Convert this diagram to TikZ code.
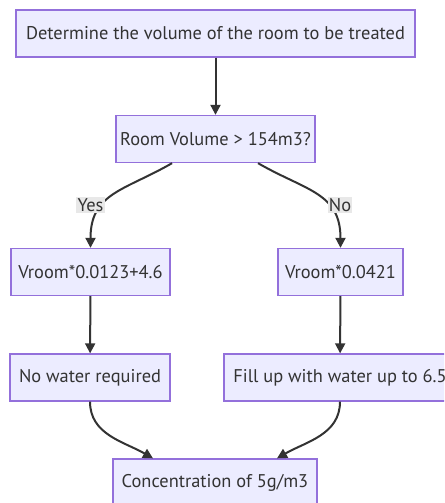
\documentclass[tikz,border=0pt]{standalone}
\usepackage{fontspec}
\setmainfont{PT Sans}
\usetikzlibrary{arrows.meta}

\definecolor{boxfill}{HTML}{ECECFF}
\definecolor{boxline}{HTML}{9370DB}
\definecolor{ink}{HTML}{333333}
\definecolor{labelbg}{HTML}{E8E8E8}

\tikzset{
  flowbox/.style={draw=boxline, fill=boxfill, line width=1pt, text=ink,
    minimum height=35.25pt, inner sep=0pt, font=\fontsize{13.8}{16}\selectfont},
  flowarrow/.style={draw=ink, line width=1.5pt,
    -{Triangle[length=7.5pt,width=7.5pt]}},
  edgelabel/.style={fill=labelbg, text=ink, inner sep=1pt,
    font=\fontsize{13.8}{16}\selectfont}
}

\begin{document}
\begin{tikzpicture}[x=0.75pt,y=-0.75pt]
  \useasboundingbox (0,0) rectangle (444,503);
  \clip (0,0) rectangle (444,503);
  % boxes
  \node[flowbox, minimum width=299.25pt] (determine) at (215.5,33.5) {Determine the volume of the room to be treated};
  \node[flowbox, minimum width=149.25pt] (volcheck) at (215.5,139) {Room Volume > 154m3?};
  \node[flowbox, minimum width=119.25pt] (formulaA) at (90.5,272) {Vroom*0.0123+4.6};
  \node[flowbox, minimum width=93.75pt] (formulaB) at (340.5,272) {Vroom*0.0421};
  \node[flowbox, minimum width=120pt] (nowater) at (90,377.5) {No water required};
  \node[flowbox, minimum width=174pt] (fillup) at (340,377.5) {Fill up with water up to 6.5};
  \node[flowbox, minimum width=153pt] (concentration) at (215,482.5) {Concentration of 5g/m3};
  % arrows
  \draw[flowarrow] (determine) -- (volcheck);
  \draw[flowarrow] ([xshift=-32.6pt]volcheck.south) to[out=210, in=90, looseness=1.2] (formulaA.north);
  \draw[flowarrow] ([xshift=31.9pt]volcheck.south) to[out=-30, in=90, looseness=1.2] (formulaB.north);
  \draw[flowarrow] (formulaA) -- (nowater);
  \draw[flowarrow] (formulaB) -- (fillup);
  \draw[flowarrow] (nowater.south) to[out=-90, in=150] ([xshift=-46.5pt]concentration.north);
  \draw[flowarrow] (fillup.south) to[out=-90, in=30] ([xshift=46.5pt]concentration.north);
  % labels
  \node[edgelabel] (yes) at (90.5,205) {Yes};
  \node[edgelabel] (no) at (340,205) {No};
\end{tikzpicture}
\end{document}
